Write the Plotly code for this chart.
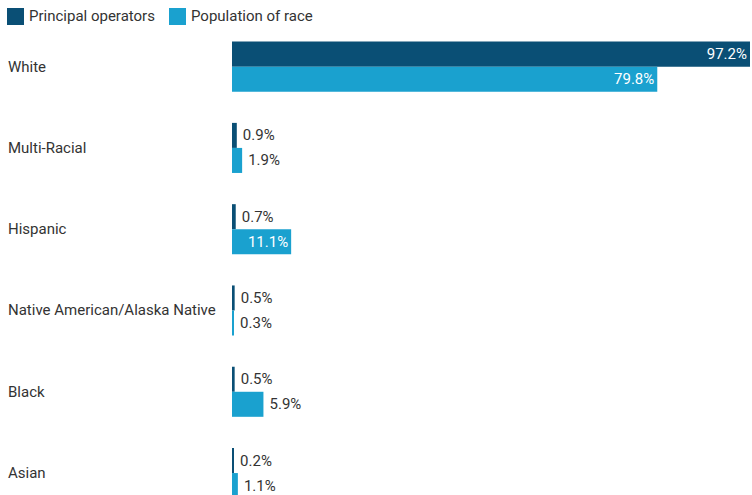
import plotly.graph_objects as go

categories = ["White", "Multi-Racial", "Hispanic", "Native American/Alaska Native", "Black", "Asian"]
principal_operators = [97.2, 0.9, 0.7, 0.5, 0.5, 0.2]
population_of_race = [79.8, 1.9, 11.1, 0.3, 5.9, 1.1]
series_names = ["Principal operators", "Population of race"]

DARK = "#0a4f75"
LIGHT = "#1aa1cf"
TEXT = "#333333"
FONT = "Roboto"
FS = 15

W, H = 752, 495
L, R, T, B = 232, 2, 26, 0
PW, PH = W - L - R, H - T - B


def px(x):
    return (x - L) / PW


def py(y):
    return (H - B - y) / PH


def positions(vals):
    return ["inside" if v > 10 else "outside" for v in vals]


fig = go.Figure()
colors = [DARK, LIGHT]
for name, vals, color in zip(series_names, [principal_operators, population_of_race], colors):
    fig.add_trace(go.Bar(
        y=categories, x=vals, name=name, orientation="h",
        marker=dict(color=color, line=dict(width=0)),
        texttemplate="\u2009%{x:.1f}%",
        textposition=positions(vals),
        insidetextanchor="end",
        insidetextfont=dict(color="white", family=FONT, size=FS),
        outsidetextfont=dict(color=TEXT, family=FONT, size=FS),
        textangle=0,
        constraintext="none",
        cliponaxis=False,
        showlegend=False,
    ))

# category labels, left aligned
for c in categories:
    fig.add_annotation(x=px(7), xref="paper", y=c, yref="y", text=c,
                       showarrow=False, xanchor="left", yanchor="middle", borderpad=0,
                       font=dict(family=FONT, size=FS, color=TEXT))

# legend (square swatches + labels)
legend_x = [7, 169]
for name, color, lx in zip(series_names, colors, legend_x):
    fig.add_shape(type="rect", xref="paper", yref="paper",
                  x0=px(lx), x1=px(lx + 17), y0=py(8), y1=py(25),
                  fillcolor=color, line=dict(width=0))
    fig.add_annotation(x=px(lx + 21), xref="paper", y=py(16.5), yref="paper", text=name,
                       showarrow=False, xanchor="left", yanchor="middle", borderpad=0,
                       font=dict(family=FONT, size=FS, color=TEXT))

fig.update_layout(
    width=W, height=H,
    margin=dict(l=L, r=R, t=T, b=B),
    barmode="group", bargap=0.384, bargroupgap=0,
    plot_bgcolor="white", paper_bgcolor="white",
    font=dict(family=FONT, size=FS, color=TEXT),
    showlegend=False,
    xaxis=dict(range=[0, 97.2], visible=False, fixedrange=True),
    yaxis=dict(type="category", categoryorder="array", categoryarray=categories,
               range=[5.27, -0.5], showticklabels=False, showgrid=False,
               zeroline=False, showline=False, ticks=""),
)

fig.write_html(
    "out.html",
    config={"displayModeBar": False},
    post_script="document.body.style.margin='0';document.body.style.overflow='hidden';",
)
